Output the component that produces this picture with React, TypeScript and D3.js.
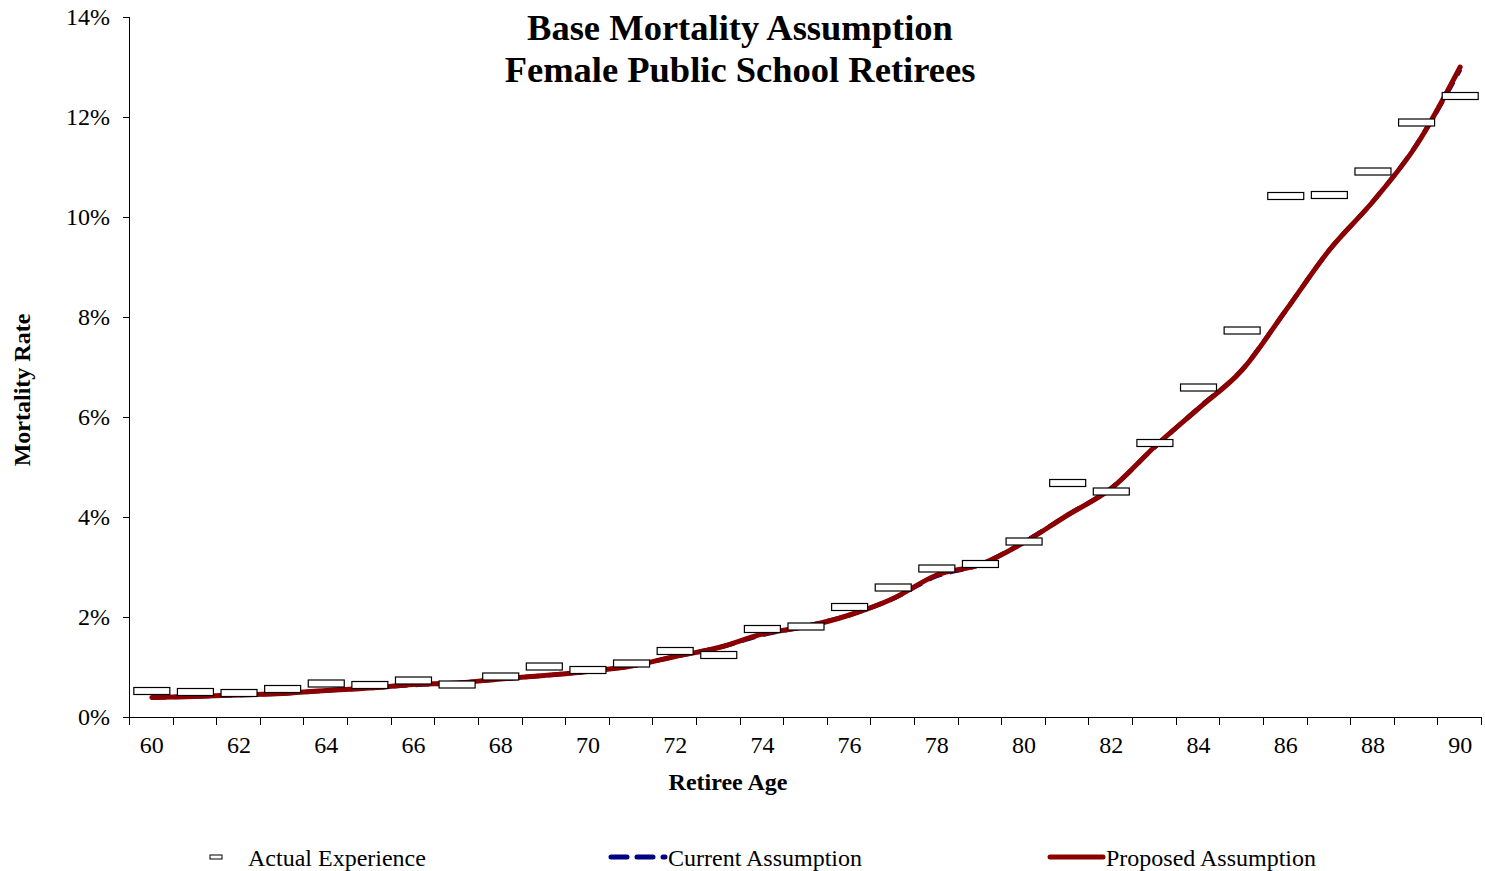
import React from "react";
import * as d3 from "d3";

const ages = d3.range(60, 91);
const actualExperience = [
  0.52, 0.50, 0.48, 0.56, 0.67, 0.64, 0.73, 0.65, 0.81, 1.01,
  0.94, 1.07, 1.32, 1.24, 1.76, 1.81, 2.20, 2.59, 2.97, 3.06,
  3.51, 4.68, 4.51, 5.48, 6.59, 7.73, 10.42, 10.44, 10.91, 11.89, 12.42,
];
const currentAssumption = [
  0.39, 0.41, 0.44, 0.47, 0.53, 0.58, 0.64, 0.68, 0.76, 0.83,
  0.91, 1.02, 1.21, 1.39, 1.64, 1.82, 2.04, 2.37, 2.82, 3.05,
  3.50, 4.04, 4.58, 5.40, 6.18, 6.95, 8.13, 9.34, 10.31, 11.45, 12.95,
];
const proposedAssumption = [
  0.39, 0.41, 0.44, 0.47, 0.53, 0.58, 0.65, 0.68, 0.76, 0.83,
  0.91, 1.02, 1.21, 1.39, 1.66, 1.81, 2.04, 2.37, 2.84, 3.05,
  3.49, 4.04, 4.57, 5.41, 6.17, 6.94, 8.13, 9.34, 10.31, 11.44, 13.0,
];
const yTicks = [0, 2, 4, 6, 8, 10, 12, 14];
const xLabelAges = d3.range(60, 91, 2);
const titleLines = ["Base Mortality Assumption", "Female Public School Retirees"];

const W = 1485;
const H = 871;
const m = { left: 130, right: 1482, top: 17, bottom: 717 };
const font = "'Liberation Serif', 'Times New Roman', serif";

export default function App() {
  const x = d3
    .scaleBand<number>()
    .domain(ages)
    .range([m.left, m.right])
    .paddingInner(0)
    .paddingOuter(0);
  const y = d3.scaleLinear().domain([0, 14]).range([m.bottom, m.top]);
  const cx = (a: number) => (x(a) as number) + x.bandwidth() / 2;

  const line = d3
    .line<number>()
    .x((_, i) => cx(ages[i]))
    .y((d) => y(d))
    .curve(d3.curveMonotoneX);

  const boundaries = d3.range(0, ages.length + 1).map((i) => m.left + i * x.bandwidth());

  return (
    <svg width={W} height={H} style={{ position: "absolute", left: 0, top: 0, background: "#fff" }} fontFamily={font}>
      {/* title */}
      {titleLines.map((t, i) => (
        <text key={t} x={740} y={40 + i * 42} textAnchor="middle" fontSize={36.5} fontWeight="bold" fill="#000">
          {t}
        </text>
      ))}

      {/* axes */}
      <line x1={m.left - 0.5} x2={m.left - 0.5} y1={m.top} y2={m.bottom} stroke="#000" strokeWidth={1} />
      <line x1={m.left - 7} x2={m.right} y1={m.bottom + 0.5} y2={m.bottom + 0.5} stroke="#000" strokeWidth={1} />
      {yTicks.map((t) => (
        <g key={t}>
          <line x1={m.left - 7} x2={m.left} y1={Math.round(y(t)) + 0.5} y2={Math.round(y(t)) + 0.5} stroke="#000" />
          <text x={110} y={y(t) + 8} textAnchor="end" fontSize={24} fill="#000">
            {t}%
          </text>
        </g>
      ))}
      {boundaries.map((b, i) => (
        <line key={i} x1={Math.round(b) - 0.5} x2={Math.round(b) - 0.5} y1={m.bottom} y2={m.bottom + 8} stroke="#000" />
      ))}
      {xLabelAges.map((a) => (
        <text key={a} x={cx(a)} y={753} textAnchor="middle" fontSize={24} fill="#000">
          {a}
        </text>
      ))}
      <text x={728} y={790} textAnchor="middle" fontSize={24} fontWeight="bold" fill="#000">
        Retiree Age
      </text>
      <text
        transform={`translate(30,390) rotate(-90)`}
        textAnchor="middle"
        fontSize={24}
        fontWeight="bold"
        fill="#000"
      >
        Mortality Rate
      </text>

      {/* lines */}
      <path d={line(currentAssumption) || ""} fill="none" stroke="#000080" strokeWidth={4.5} strokeDasharray="14,8" />
      <path d={line(proposedAssumption) || ""} fill="none" stroke="#8B0000" strokeWidth={5} strokeLinecap="round" />

      {/* actual experience markers */}
      {actualExperience.map((v, i) => (
        <rect
          key={i}
          x={cx(ages[i]) - 18}
          y={y(v) - 3.5}
          width={36}
          height={7}
          fill="#fff"
          stroke="#000"
          strokeWidth={1.2}
        />
      ))}

      {/* legend */}
      <rect x={210} y={855} width={12} height={4} fill="#fff" stroke="#000" strokeWidth={1} />
      <text x={248} y={866} fontSize={24} fill="#000">Actual Experience</text>
      <line x1={611} x2={665} y1={857} y2={857} stroke="#000080" strokeWidth={5} strokeDasharray="16,10" strokeLinecap="round" />
      <text x={668} y={866} fontSize={24} fill="#000">Current Assumption</text>
      <line x1={1050} x2={1103} y1={857} y2={857} stroke="#8B0000" strokeWidth={5} strokeLinecap="round" />
      <text x={1106} y={866} fontSize={24} fill="#000">Proposed Assumption</text>
    </svg>
  );
}
